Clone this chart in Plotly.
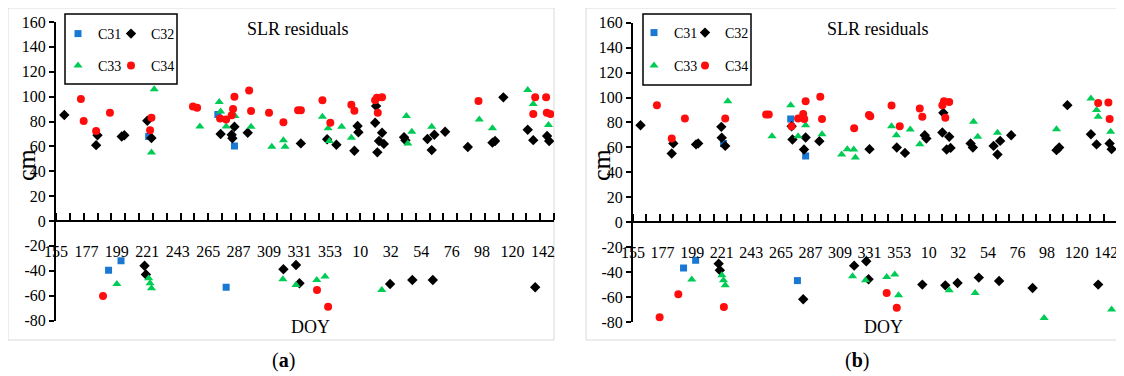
import plotly.graph_objects as go

# ---------------- data ----------------
# x positions are days counted continuously from DOY 155 (next-year DOY = DOY + 365)
doy_ticks = [155, 177, 199, 221, 243, 265, 287, 309, 331, 353, 375, 397, 419, 441, 463, 485, 507]
doy_labels = ["155", "177", "199", "221", "243", "265", "287", "309", "331", "353",
              "10", "32", "54", "76", "98", "120", "142"]
y_ticks = [-80, -60, -40, -20, 0, 20, 40, 60, 80, 100, 120, 140, 160]
y_labels = ["-80", "-60", "-40", "-20", "0", "20", "40", "60", "80", "100", "120", "140", "160"]
series_names = ["C31", "C32", "C33", "C34"]

# panel (a)
a_c31_x = [222, 272, 284, 193, 202, 278]
a_c31_y = [68, 85.7, 60.3, -39.6, -32, -53.3]
a_c32_x = [161, 185, 184, 202.5, 204.4, 221, 224, 274, 282, 282.5, 284, 293.6, 332, 351, 357.7,
           373, 373.6, 370.7, 386.4, 385.7, 390.7, 388.5, 392, 387.3, 406.6, 407.6, 423.5, 428.5,
           426.6, 436.3, 452.7, 470.5, 472.4, 478.4, 496, 500, 510, 511.5,
           219, 220, 319.4, 328.5, 331, 396.5, 412.6, 427.4, 501.4]
a_c32_y = [85.2, 69, 61, 68, 69, 80.6, 66.7, 70, 69.4, 66.5, 75.8, 71, 62.4, 65.7, 61.3,
           76.4, 71.3, 56.5, 92.4, 79, 71, 64.3, 62, 55.2, 67.3, 64.9, 65.9, 69.4,
           57, 71.8, 59.5, 63, 64.3, 99.4, 73.4, 65, 68.3, 64.3,
           -36, -43, -38.8, -35.4, -50, -50.6, -47.4, -47.4, -53.3]
a_c33_x = [226, 224, 259, 273, 274, 278, 284.4, 296, 311, 319.4, 320.6, 347.6, 351.7, 352.6, 361.5,
           368.5, 408.3, 412.2, 409.3, 426.6, 461, 470.5, 496, 500, 511,
           199, 222, 223, 224, 319, 328.5, 343.5, 349.5, 390.5]
a_c33_y = [106, 55, 76, 95.7, 88, 76, 84.4, 75.8, 59.7, 65, 59.7, 83.8, 74.5, 64.3, 75.8,
           67, 84.4, 71.8, 62.4, 75.8, 81.7, 74.5, 105.3, 94, 77.2,
           -50.6, -46, -50, -54, -46.9, -51.4, -47.4, -44.7, -55.5]
a_c34_x = [173, 175, 184, 194, 223, 224, 254, 257, 273.6, 278, 282, 283, 284, 294.6, 296, 309,
           319.4, 330, 332, 347.6, 353.3, 368.5, 370.7, 385.7, 387, 390.7, 387.6, 460.4, 501.4,
           500, 509.3, 509.8, 512.4,
           189, 343.7, 351.7]
a_c34_y = [98, 80.4, 72.3, 87, 73, 83, 92, 91, 82.5, 81.7, 85, 90, 100, 105, 88.4, 87,
           79.3, 89, 89, 97, 79, 93.5, 88.7, 97, 99, 99.4, 87, 96.5, 99.4,
           86, 99.4, 87, 86,
           -60.3, -55.5, -69]

# panel (b)
b_c31_x = [222.3, 272.3, 283.4, 192.6, 201.6, 277.3]
b_c31_y = [63.2, 82.7, 53.2, -36.7, -30.5, -46.8]
b_c32_x = [160.6, 183.8, 185, 201.9, 203.5, 220.7, 221, 223.6, 273, 273.6, 283.4, 282.2, 293.6,
           330.9, 351.2, 357.3, 372, 373.2, 385.8, 385.1, 390.2, 388.3, 391.2, 406.1, 407.8,
           423.2, 428.1, 426.1, 436.3, 470, 472, 478.1, 495.6, 499.8, 509.5, 511,
           218.7, 219.6, 281.6, 319.5, 328.5, 330.2, 370.2, 387.3, 396.4, 412.2, 427.3, 452.2, 501]
b_c32_y = [77.8, 55.1, 63.2, 62.4, 63.2, 76.5, 67.7, 61.2, 77, 66.4, 68, 58.3, 65,
           58.6, 59.9, 55.6, 69.8, 67.2, 87.7, 72, 68.5, 58.3, 59.6, 63.2, 59.9,
           61.2, 65.2, 54.3, 69.8, 57.8, 59.9, 93.9, 70.6, 62.4, 63.2, 58.6,
           -33.2, -38.5, -61.8, -34.8, -31.3, -45.7, -50, -50.6, -48.7, -44.4, -47.1, -52.7, -50]
b_c33_x = [225.5, 258.4, 272.3, 277.8, 283.4, 295.6, 310.2, 314.4, 319.2, 320.4, 347.3, 350.9,
           361.2, 368.3, 408.3, 411.4, 426.1, 470, 495.6, 499.8, 501, 510.3,
           198.7, 221.1, 222.3, 223.6, 318.3, 328, 343.7, 349.7, 352.5, 390.2, 409.5, 460.8, 511]
b_c33_y = [97.1, 69, 93.9, 69, 77.8, 70.6, 54.3, 58.6, 58.3, 51.9, 77, 69.8,
           74.4, 62.6, 80.5, 68.5, 71.7, 74.6, 99.3, 89.9, 84.5, 72.5,
           -46, -42.5, -46.5, -50.6, -43.3, -46.5, -43.9, -42, -58.6, -54.6, -56.7, -76.8, -70]
b_c34_x = [172.8, 183.8, 193.6, 223.6, 254, 256, 273, 277.8, 281.6, 282.4, 283.4, 294.3, 295.6,
           319.5, 330.5, 331.5, 347.3, 353.4, 368.3, 370.2, 385.1, 386.3, 390.2, 387.3,
           501, 508.6, 509.5,
           174.8, 188.7, 222.6, 343.7, 351.2]
b_c34_y = [93.9, 67.2, 83.2, 83.2, 86.4, 86.4, 77, 83.2, 86.7, 82.7, 97.1, 100.6, 82.7,
           75.4, 85.9, 85, 93.6, 77, 91.2, 84.5, 93.9, 97.1, 96.5, 83.7,
           95.7, 96, 82.7,
           -76.2, -57.8, -68, -56.7, -68.5]

# ---------------- styling ----------------
# The page body has an 8 px margin, so the figure is offset by 8 px in the window.
OFF = 8
W, H = 1116, 368
FONT = "Liberation Serif"
colors = ["#1a78d2", "#000000", "#00cc55", "#ff0d0d"]
symbols = ["square", "diamond", "triangle-up", "circle"]
sizes = [7, 8, 8, 8]


def px(x):
    return (x - OFF) / W


def py(y):
    return 1 - (y - OFF) / H


panels = [
    dict(xd=[px(56), px(554)], yd=[py(320.5), py(22)], data=[(a_c31_x, a_c31_y), (a_c32_x, a_c32_y),
                                                          (a_c33_x, a_c33_y), (a_c34_x, a_c34_y)],
         leg_pos=[(78, 34), (131, 34), (78, 66), (131, 66)], box=(65, 14, 177, 84),
         border=(8, 8, 554, 340), title_x=298, cm_x=27, doy_x=310, lab_x=283, lab="(<b>a</b>)"),
    dict(xd=[px(633), px(1117)], yd=[py(322), py(22.7)], data=[(b_c31_x, b_c31_y), (b_c32_x, b_c32_y),
                                                            (b_c33_x, b_c33_y), (b_c34_x, b_c34_y)],
         leg_pos=[(654, 33), (705, 33), (654, 66), (705, 66)], box=(643, 14, 751, 85),
         border=(586, 8, 1130, 340), title_x=878, cm_x=602, doy_x=883, lab_x=857, lab="(<b>b</b>)"),
]

fig = go.Figure()
layout = dict(template="none", width=W, height=H, margin=dict(l=0, r=0, t=0, b=0, autoexpand=False),
              paper_bgcolor="white", plot_bgcolor="rgba(0,0,0,0)",
              font=dict(family=FONT, size=16, color="black"),
              shapes=[], annotations=[])

leg_count = 0
for i, p in enumerate(panels):
    xa = "xaxis" if i == 0 else "xaxis2"
    ya = "yaxis" if i == 0 else "yaxis2"
    xref = "x" if i == 0 else "x2"
    yref = "y" if i == 0 else "y2"
    for k in range(4):
        xs, ys = p["data"][k]
        leg_count += 1
        leg_name = "legend" if leg_count == 1 else f"legend{leg_count}"
        fig.add_trace(go.Scatter(
            x=xs, y=ys, mode="markers", name=series_names[k],
            marker=dict(symbol=symbols[k], size=sizes[k], color=colors[k], line=dict(width=0)),
            xaxis=xref, yaxis=yref, legend=leg_name, showlegend=True))
        lx, ly = p["leg_pos"][k]
        layout[leg_name] = dict(
            x=px(lx - 20), y=py(ly), xanchor="left", yanchor="middle",
            bgcolor="rgba(0,0,0,0)", borderwidth=0, font=dict(family=FONT, size=14, color="black"),
            itemwidth=30, tracegroupgap=0)
    y0, y1 = p["yd"]
    zero_pos = y0 + (y1 - y0) * (80 / 240)
    layout[xa] = dict(domain=p["xd"], range=[155, 515], anchor="free", position=zero_pos,
                      automargin=False, ticklabeloverflow="allow",
                      showline=True, linewidth=2, linecolor="black", showgrid=False, zeroline=False,
                      tickmode="array", tickvals=doy_ticks, ticktext=doy_labels, ticks="",
                      ticklabelstandoff=16, tickfont=dict(family=FONT, size=16, color="black"),
                      minor=dict(tickmode="linear", tick0=155, dtick=10, ticks="inside",
                                 ticklen=7, tickwidth=1.5, tickcolor="black", showgrid=False))
    layout[ya] = dict(domain=p["yd"], range=[-80, 160], anchor=xref, automargin=False,
                      showline=True, linewidth=2, linecolor="black", showgrid=False, zeroline=False,
                      tickmode="array", tickvals=y_ticks, ticktext=y_labels, ticks="outside",
                      ticklen=5, tickwidth=1.5, tickcolor="black",
                      tickfont=dict(family=FONT, size=16, color="black"))
    bx0, by0, bx1, by1 = p["box"]
    layout["shapes"].append(dict(type="rect", xref="paper", yref="paper",
                                 x0=px(bx0), x1=px(bx1), y0=py(by1), y1=py(by0),
                                 line=dict(color="black", width=1.5)))
    ox0, oy0, ox1, oy1 = p["border"]
    layout["shapes"].append(dict(type="rect", xref="paper", yref="paper",
                                 x0=px(ox0), x1=px(ox1), y0=py(oy1), y1=py(oy0),
                                 line=dict(color="#d9d9d9", width=1), layer="below"))
    common = dict(xref="paper", yref="paper", xanchor="center", yanchor="middle", showarrow=False)
    layout["annotations"] += [
        dict(text="SLR residuals", x=px(p["title_x"]), y=py(29),
             font=dict(family=FONT, size=18), **common),
        dict(text="cm", x=px(p["cm_x"]), y=py(165), textangle=-90,
             font=dict(family=FONT, size=26), **common),
        dict(text="DOY", x=px(p["doy_x"]), y=py(327),
             font=dict(family=FONT, size=18), **common),
        dict(text=p["lab"], x=px(p["lab_x"]), y=py(360),
             font=dict(family=FONT, size=20), **common),
    ]

fig.update_layout(**layout)
fig.write_html("out.html")
